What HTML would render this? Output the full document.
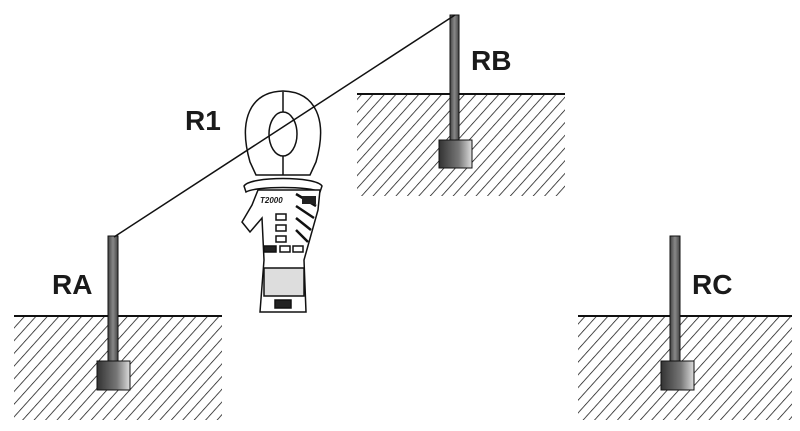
<!DOCTYPE html>
<html><head><style>
html,body{margin:0;padding:0;background:#fff;width:800px;height:431px;overflow:hidden}
svg text{font-family:"Liberation Sans",sans-serif;font-weight:bold;font-size:28px;fill:#1a1a1a}
</style></head><body>
<svg width="800" height="431" viewBox="0 0 800 431" xmlns="http://www.w3.org/2000/svg">
<defs>
<pattern id="h" patternUnits="userSpaceOnUse" width="8.5" height="8.5" patternTransform="rotate(42)">
<line x1="0" y1="0" x2="0" y2="8.5" stroke="#111" stroke-width="1.5"/>
</pattern>
<linearGradient id="g" x1="0" x2="1"><stop offset="0" stop-color="#333"/><stop offset="0.6" stop-color="#777"/><stop offset="1" stop-color="#ddd"/></linearGradient>
<linearGradient id="s" x1="0" x2="1"><stop offset="0" stop-color="#444"/><stop offset="0.5" stop-color="#888"/><stop offset="1" stop-color="#444"/></linearGradient>
</defs>
<rect x="14" y="316" width="208" height="104" fill="url(#h)"/>
<line x1="14" y1="316" x2="222" y2="316" stroke="#111" stroke-width="2"/>
<rect x="357" y="94" width="208" height="102" fill="url(#h)"/>
<line x1="357" y1="94" x2="565" y2="94" stroke="#111" stroke-width="2"/>
<rect x="578" y="316" width="214" height="104" fill="url(#h)"/>
<line x1="578" y1="316" x2="792" y2="316" stroke="#111" stroke-width="2"/>
<g stroke="#111" stroke-width="1">
<rect x="108" y="236" width="10" height="126" fill="url(#s)"/>
<rect x="97" y="361" width="33" height="29" fill="url(#g)"/>
<rect x="450" y="15" width="9" height="126" fill="url(#s)"/>
<rect x="439" y="140" width="33" height="28" fill="url(#g)"/>
<rect x="670" y="236" width="10" height="126" fill="url(#s)"/>
<rect x="661" y="361" width="33" height="29" fill="url(#g)"/>
</g>
<text x="52" y="294">RA</text>
<text x="471" y="70">RB</text>
<text x="185" y="130">R1</text>
<text x="692" y="294">RC</text>
<g stroke="#111" stroke-width="1.5" fill="#fff">
<path d="M250 162 C238 120 250 92 283 91 C316 92 328 120 316 162 L310 175 L256 175 Z"/>
<ellipse cx="283" cy="134" rx="14" ry="22"/>
<line x1="283" y1="92" x2="283" y2="112"/>
<line x1="283" y1="156" x2="283" y2="175"/>
<path d="M244 186 C250 176 316 176 322 186 L320 192 C310 186 256 186 246 192 Z"/>
<path d="M258 190 L252 205 L242 222 L250 232 L262 218 L264 260 L260 312 L306 312 L304 260 L318 210 L320 190 Z"/>
<rect x="264" y="268" width="40" height="28" fill="#ddd"/>
<rect x="275" y="300" width="16" height="8" fill="#222"/>
<rect x="276" y="214" width="10" height="6"/>
<rect x="276" y="225" width="10" height="6"/>
<rect x="276" y="236" width="10" height="6"/>
<rect x="264" y="246" width="12" height="6" fill="#222"/>
<rect x="280" y="246" width="10" height="6"/>
<rect x="293" y="246" width="10" height="6"/>
</g>
<g stroke="#111" stroke-width="2.5">
<line x1="296" y1="194" x2="316" y2="206"/>
<line x1="296" y1="206" x2="314" y2="218"/>
<line x1="296" y1="218" x2="311" y2="230"/>
<line x1="296" y1="230" x2="308" y2="242"/>
</g>
<rect x="302" y="196" width="14" height="8" fill="#222"/>
<text x="260" y="203" style="font-size:8px;font-style:italic">T2000</text>
<line x1="114" y1="237" x2="455" y2="15" stroke="#111" stroke-width="1.5"/>
</svg>
</body></html>
